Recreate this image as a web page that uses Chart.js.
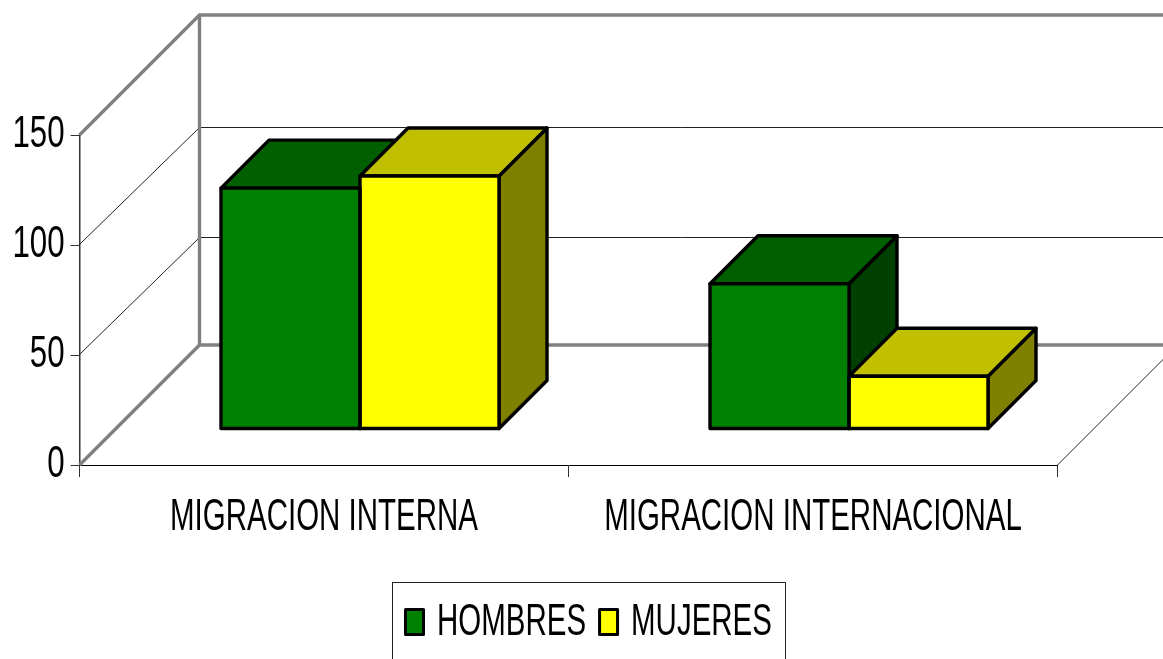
<!DOCTYPE html>
<html>
<head>
<meta charset="utf-8">
<style>html,body{margin:0;padding:0;background:#fff;overflow:hidden}canvas{display:block}</style>
<script src="https://cdn.jsdelivr.net/npm/chart.js@4/dist/chart.umd.min.js"></script>
</head>
<body>
<canvas id="c" width="1163" height="659"></canvas>
<script>
const categories = ['MIGRACION INTERNA', 'MIGRACION INTERNACIONAL'];
const seriesNames = ['HOMBRES', 'MUJERES'];
const hombres = [109.5, 66];
const mujeres = [115, 24];
const faceColors = [
  {front:'#008000', top:'#006000', side:'#004000'},
  {front:'#FFFF00', top:'#C0C000', side:'#808000'}
];
const GRAY = '#808080', WALL = 120, GRID_BACK = 117.5, OFFSET = 36, DEPTH = 48;
const squeezeOf = t => /^\d+$/.test(t) ? 0.71 : 0.67;

function poly(ctx, pts, fill){
  ctx.beginPath();
  pts.forEach((p,i)=> i ? ctx.lineTo(p[0],p[1]) : ctx.moveTo(p[0],p[1]));
  ctx.closePath();
  ctx.fillStyle = fill; ctx.fill();
  ctx.lineWidth = 3.4; ctx.strokeStyle = '#000'; ctx.lineJoin='round'; ctx.stroke();
}
function line(ctx, pts, color, w){
  ctx.beginPath();
  pts.forEach((p,i)=> i ? ctx.lineTo(p[0],p[1]) : ctx.moveTo(p[0],p[1]));
  ctx.strokeStyle = color; ctx.lineWidth = w; ctx.stroke();
}
const condensed = {
  id:'condensed',
  beforeInit(chart){
    const c = chart.ctx, ft = c.fillText.bind(c), mt = c.measureText.bind(c);
    c.fillText = (t,x,y,m)=>{
      const s = squeezeOf(t);
      c.save(); c.translate(x,y); c.scale(s,1);
      if(m===undefined) ft(t,0,0); else ft(t,0,0,m/s);
      c.restore();
    };
    c.measureText = t=>({width: mt(t).width*squeezeOf(t)});
  }
};
const box3d = {
  id:'box3d',
  afterLayout(chart){
    const l = chart.legend;
    l.left = 392; l.right = 820; l.width = 428; l.top = 587; l.bottom = 659; l.height = 72;
    l.adjustHitBoxes();
  },
  beforeDatasetsDraw(chart){
    const {ctx, chartArea:a, scales:{y}} = chart, W = chart.width;
    const y0 = y.getPixelForValue(0), yMax = y.getPixelForValue(150);
    ctx.save();
    ctx.lineJoin='miter';
    y.ticks.forEach(t=>{
      if(t.value===0 || t.value===150) return;
      const p = y.getPixelForValue(t.value);
      line(ctx, [[a.left,p-0.5],[a.left+WALL,p-GRID_BACK],[W,p-GRID_BACK]], '#222', 1);
    });
    line(ctx, [[a.right,y0],[a.right+WALL,y0-WALL]], '#222', 1);
    line(ctx, [[a.left,yMax],[a.left+WALL,yMax-WALL],[W,yMax-WALL]], GRAY, 3.4);
    line(ctx, [[a.left+WALL,yMax-WALL],[a.left+WALL,y0-WALL]], GRAY, 3.4);
    line(ctx, [[a.left,y0],[a.left+WALL,y0-WALL],[W,y0-WALL]], GRAY, 3.4);
    [0,1].forEach(i=>{
      chart.getDatasetMeta(i).data.forEach(el=>{
        const l=el.x-el.width/2+OFFSET, r=el.x+el.width/2+OFFSET, t=el.y-OFFSET, b=el.base-OFFSET;
        poly(ctx, [[r,t],[r+DEPTH,t-DEPTH],[r+DEPTH,b-DEPTH],[r,b]], faceColors[i].side);
        poly(ctx, [[l,t],[r,t],[r+DEPTH,t-DEPTH],[l+DEPTH,t-DEPTH]], faceColors[i].top);
      });
    });
    ctx.restore();
  },
  beforeDatasetDraw(chart){ chart.ctx.save(); chart.ctx.translate(OFFSET,-OFFSET); },
  afterDatasetDraw(chart){ chart.ctx.restore(); },
  afterDatasetsDraw(chart){
    const ctx = chart.ctx;
    ctx.save(); ctx.lineWidth=3.4; ctx.strokeStyle='#000'; ctx.lineJoin='round';
    [0,1].forEach(i=>{
      chart.getDatasetMeta(i).data.forEach(el=>{
        ctx.strokeRect(el.x-el.width/2+OFFSET, el.y-OFFSET, el.width, el.base-el.y);
      });
    });
    ctx.restore();
  },
  afterDraw(chart){
    const ctx = chart.ctx, l = chart.legend;
    ctx.save();
    ctx.strokeStyle='#222'; ctx.lineWidth=1;
    ctx.strokeRect(392.5,582.5,393,100);
    ctx.lineJoin='round'; ctx.lineWidth=3; ctx.strokeStyle='#000';
    l.legendHitBoxes.forEach((h,i)=>{
      ctx.fillStyle = faceColors[i].front;
      ctx.beginPath(); ctx.rect(h.left,609.5,18,25); ctx.fill(); ctx.stroke();
    });
    ctx.restore();
  }
};
new Chart(document.getElementById('c'), {
  type:'bar',
  data:{
    labels:categories,
    datasets:[
      {label:seriesNames[0], data:hombres, backgroundColor:faceColors[0].front, borderWidth:0, clip:false},
      {label:seriesNames[1], data:mujeres, backgroundColor:faceColors[1].front, borderWidth:0, clip:false}
    ]
  },
  plugins:[condensed, box3d],
  options:{
    responsive:false, animation:false, events:[],
    layout:{padding:{top:135,right:105.5,left:0,bottom:0}},
    datasets:{bar:{categoryPercentage:278/489, barPercentage:1}},
    plugins:{
      tooltip:{enabled:false},
      legend:{
        position:'bottom', align:'start',
        labels:{boxWidth:9.5, boxHeight:22, padding:13.5, color:'#000',
          font:{family:'"Liberation Sans", Arial, sans-serif', size:44}}
      }
    },
    scales:{
      x:{
        offset:true,
        grid:{offset:true, drawOnChartArea:false, drawTicks:true, tickLength:12, color:'#333', lineWidth:1},
        border:{color:'#000', width:1},
        ticks:{autoSkip:false, maxRotation:0, minRotation:0, padding:14, color:'#000',
          font:{family:'"Liberation Sans", Arial, sans-serif', size:44}},
        afterFit(s){ s.height = 659-465-s.chart.legend.height; }
      },
      y:{
        min:0, max:150,
        grid:{drawOnChartArea:false, drawTicks:true, tickLength:9, color:'#333', lineWidth:1},
        border:{color:'#333', width:1.5},
        ticks:{stepSize:50, padding:6, color:'#000',
          font:{family:'"Liberation Sans", Arial, sans-serif', size:44}},
        afterFit(s){ s.width = 79.5; }
      }
    }
  }
});
</script>
</body>
</html>
